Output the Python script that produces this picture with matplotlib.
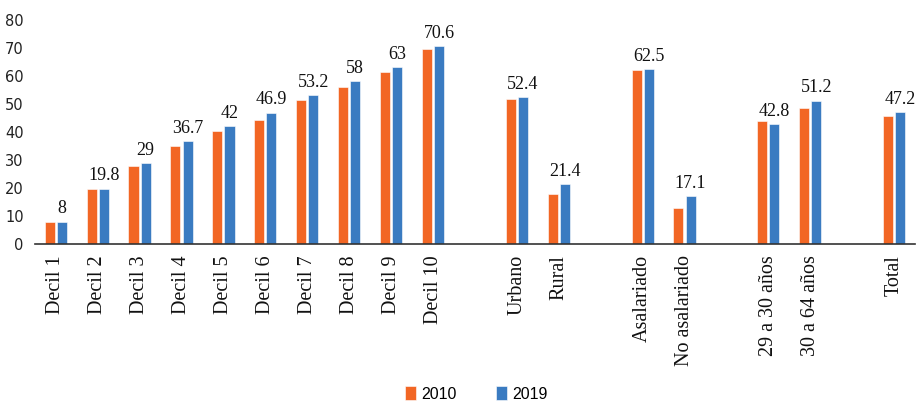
import matplotlib
matplotlib.use("Agg")
import matplotlib.pyplot as plt
import numpy as np

categories = ["Decil 1", "Decil 2", "Decil 3", "Decil 4", "Decil 5", "Decil 6",
              "Decil 7", "Decil 8", "Decil 9", "Decil 10",
              "Urbano", "Rural",
              "Asalariado", "No asalariado",
              "29 a 30 años", "30 a 64 años",
              "Total"]
# slot of each category (empty slot between the groups)
slots = [0, 1, 2, 3, 4, 5, 6, 7, 8, 9, 11, 12, 14, 15, 17, 18, 20]

v2010 = [8.0, 19.8, 27.8, 34.9, 40.5, 44.4, 51.3, 55.9, 61.3, 69.5,
         51.7, 17.7, 62.0, 13.0, 43.8, 48.5, 45.6]
v2019 = [8.0, 19.8, 29.0, 36.7, 42.0, 46.9, 53.2, 58.0, 63.0, 70.6,
         52.4, 21.4, 62.5, 17.1, 42.8, 51.2, 47.2]
labels2019 = ["8", "19.8", "29", "36.7", "42", "46.9", "53.2", "58", "63", "70.6",
              "52.4", "21.4", "62.5", "17.1", "42.8", "51.2", "47.2"]

c2010 = "#F26624"
c2019 = "#3A7BC1"

fig = plt.figure(figsize=(9.16, 4.04), dpi=100)
ax = fig.add_axes([0.038, 0.396, 0.961, 0.555])

x = np.array(slots, dtype=float)
w = 0.24
off = 0.145
ax.bar(x - off, v2010, w, color=c2010, edgecolor="white", linewidth=0.4, label="2010")
b = ax.bar(x + off, v2019, w, color=c2019, edgecolor="white", linewidth=0.4, label="2019")

for rect, lab in zip(b, labels2019):
    ax.annotate(lab, (rect.get_x() + rect.get_width() / 2, rect.get_height()),
                xytext=(0, 3), textcoords="offset points", ha="center", va="bottom",
                fontsize=13, family="Liberation Serif", color="#111111")

ax.set_xlim(-0.5, 20.5)
ax.set_ylim(0, 80)
ax.set_yticks(range(0, 81, 10))
ax.tick_params(axis="y", length=0, labelsize=10.5, pad=8, labelcolor="#222222")
ax.set_xticks(x)
ax.set_xticklabels(categories, rotation=90, fontsize=14.5, family="Liberation Serif",
                   color="#111111", va="top")
ax.tick_params(axis="x", length=0, pad=8)
for s in ["top", "right", "left"]:
    ax.spines[s].set_visible(False)
ax.spines["bottom"].set_color("#333333")
ax.spines["bottom"].set_linewidth(1.2)

fig.legend(loc="lower center", bbox_to_anchor=(0.52, -0.03), ncol=2, frameon=False,
           prop={"family": ["Liberation Sans Narrow", "Liberation Sans"], "size": 11.5},
           handlelength=0.7, handleheight=1.0, handletextpad=0.3, columnspacing=2.5)

fig.savefig("out.png", dpi=100)
